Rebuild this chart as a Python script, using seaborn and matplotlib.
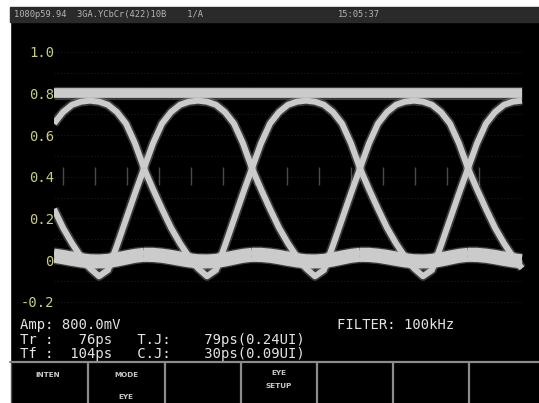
import matplotlib
matplotlib.use("Agg")
import matplotlib.pyplot as plt
import numpy as np
import pandas as pd
import seaborn as sns

# ---------------- data ----------------
# unit intervals (UI); each slot starts at a crossing point
ui_slots = [-1, 0, 1, 2, 3]
# sample positions inside one unit interval (fraction of UI)
phase_ui = [i / 12 for i in range(13)]
# eye traces, crossing -> crossing (volts)
upper_arc = [0.44, 0.56, 0.655, 0.71, 0.745, 0.76, 0.765, 0.76, 0.745, 0.71, 0.655, 0.56, 0.44]
lower_arc = [0.44, 0.34, 0.245, 0.155, 0.08, 0.015, -0.04, -0.078, -0.048, 0.07, 0.195, 0.32, 0.44]
high_level = [0.80, 0.80, 0.80, 0.80, 0.80, 0.80, 0.80, 0.80, 0.80, 0.80, 0.80, 0.80, 0.80]
low_level_a = [0.04, 0.04, 0.036, 0.03, 0.022, 0.014, 0.009, 0.008, 0.011, 0.018, 0.027, 0.035, 0.04]
low_level_b = [0.01, 0.009, 0.005, -0.002, -0.01, -0.017, -0.021, -0.022, -0.02, -0.013, -0.004, 0.005, 0.01]
window_ui = (-0.834, 3.501)

y_ticks = [-0.2, 0.0, 0.2, 0.4, 0.6, 0.8, 1.0]
y_tick_labels = ["-0.2", "0", "0.2", "0.4", "0.6", "0.8", "1.0"]
grid_levels = [-0.2, -0.1, 0.0, 0.1, 0.2, 0.3, 0.4, 0.5, 0.6, 0.7, 0.8, 0.9, 1.0]
marker_x = [-0.75, -0.454, -0.157, 0.139, 0.435, 0.731, 1.028, 1.324, 1.62, 1.917, 2.213, 2.509, 2.806, 3.102]

status_left = "1080p59.94  3GA.YCbCr(422)10B    1/A"
status_time = "15:05:37"
meas_amp = "Amp: 800.0mV"
meas_tr = "Tr :   76ps   T.J:    79ps(0.24UI)"
meas_tf = "Tf :  104ps   C.J:    30ps(0.09UI)"
filter_text = "FILTER: 100kHz"
fkey_dividers = [88, 165, 241, 317, 393, 469]
fkey_labels = [("INTEN", 48, 375), ("MODE", 126, 375), ("EYE", 126, 397),
               ("EYE", 279, 373), ("SETUP", 279, 386)]

# ---------------- build long-form table ----------------
traces = {"upper": upper_arc, "lower": lower_arc, "high": high_level,
          "lowa": low_level_a, "lowb": low_level_b}
rows = []
for k in ui_slots:
    for name, vals in traces.items():
        for p, v in zip(phase_ui, vals):
            t = k + p
            if window_ui[0] <= t <= window_ui[1]:
                rows.append({"t": t, "v": v, "unit": f"{name}{k}", "kind": name})
df = pd.DataFrame(rows)

# ---------------- figure ----------------
W, H = 539, 403
sns.set_theme(style="dark")
fig = plt.figure(figsize=(W / 100, H / 100), dpi=100, facecolor="black")

def px(x, y):
    return x / W, 1 - y / H

# white margins (left / top)
fig.patches.append(plt.Rectangle((0, 0), 10 / W, 1, transform=fig.transFigure,
                                 color="white", zorder=0))
fig.patches.append(plt.Rectangle((0, 1 - 7 / H), 1, 7 / H, transform=fig.transFigure,
                                 color="white", zorder=0))
# status bar
fig.patches.append(plt.Rectangle((10 / W, 1 - 22 / H), 1, 15 / H, transform=fig.transFigure,
                                 color="#2a2a2a", zorder=1))

# axes: x pixel = 144 + 108*t ; y pixel = 260 - 208.3*v
ax_left, ax_right, ax_top, ax_bot = 54, 539, 30, 320
ax = fig.add_axes([ax_left / W, 1 - ax_bot / H, (ax_right - ax_left) / W, (ax_bot - ax_top) / H])
ax.set_facecolor("none")
ax.set_xlim((ax_left - 144) / 108, (ax_right - 144) / 108)
ax.set_ylim((260 - ax_bot) / 208.3, (260 - ax_top) / 208.3)
for s in ax.spines.values():
    s.set_visible(False)
ax.grid(False)
ax.set_xticks([])
ax.set_yticks(y_ticks)
ax.set_yticklabels(y_tick_labels, family="DejaVu Sans Mono", fontsize=10,
                   color="#c9cc82")
ax.tick_params(axis="y", length=0, pad=0)

# faint graticule
ax.hlines(grid_levels, window_ui[0], window_ui[1], colors="#1b1b1b",
          linestyles=(0, (1, 2)), lw=0.8, zorder=1)
ax.vlines(marker_x, 0.36, 0.446, colors="#4c4c3e", lw=1.0, zorder=1)

styles = {
    "high": (9.5, 7.0),
    "upper": (6.8, 4.3),
    "lower": (6.8, 4.3),
    "lowa": (7.5, 5.6),
    "lowb": (7.5, 5.6),
}
for kind, (glow, core) in styles.items():
    sub = df[df["kind"] == kind]
    sns.lineplot(data=sub, x="t", y="v", units="unit", estimator=None, sort=False,
                 color="#a8a8a8", lw=glow, alpha=0.35, legend=False, ax=ax,
                 solid_capstyle="butt", solid_joinstyle="round", zorder=2)
for kind, (glow, core) in styles.items():
    sub = df[df["kind"] == kind]
    sns.lineplot(data=sub, x="t", y="v", units="unit", estimator=None, sort=False,
                 color="#cbcbcb", lw=core, alpha=1.0, legend=False, ax=ax,
                 solid_capstyle="butt", solid_joinstyle="round", zorder=3)
ax.set_xlabel("")
ax.set_ylabel("")

# status texts
fig.text(*px(14, 14.5), status_left, family="DejaVu Sans Mono", fontsize=6.3,
         color="#b5b5b5", va="center", ha="left")
fig.text(*px(338, 14.5), status_time, family="DejaVu Sans Mono", fontsize=6.3,
         color="#b5b5b5", va="center", ha="left")

# measurement texts
mono = dict(family="DejaVu Sans Mono", fontsize=10, color="#e4e4e4", va="center", ha="left")
fig.text(*px(20, 325), meas_amp, **mono)
fig.text(*px(20, 340), meas_tr, **mono)
fig.text(*px(20, 354), meas_tf, **mono)
fig.text(*px(337, 325), filter_text, **mono)

# function-key row
fig.add_artist(plt.Line2D([10 / W, 1], [1 - 362 / H, 1 - 362 / H], transform=fig.transFigure,
                          color="#8c8c8c", lw=1.6))
for xd in fkey_dividers:
    fig.add_artist(plt.Line2D([xd / W, xd / W], [1 - 362 / H, 0], transform=fig.transFigure,
                              color="#8c8c8c", lw=1.6))
fig.add_artist(plt.Line2D([11 / W, 11 / W], [1 - 362 / H, 0], transform=fig.transFigure,
                          color="#555555", lw=1.0))
for lab, xx, yy in fkey_labels:
    fig.text(*px(xx, yy), lab, family="DejaVu Sans", fontweight="bold", fontsize=5.2,
             color="#c8c8c8", ha="center", va="center")

fig.savefig("out.png", dpi=100, facecolor="black")
